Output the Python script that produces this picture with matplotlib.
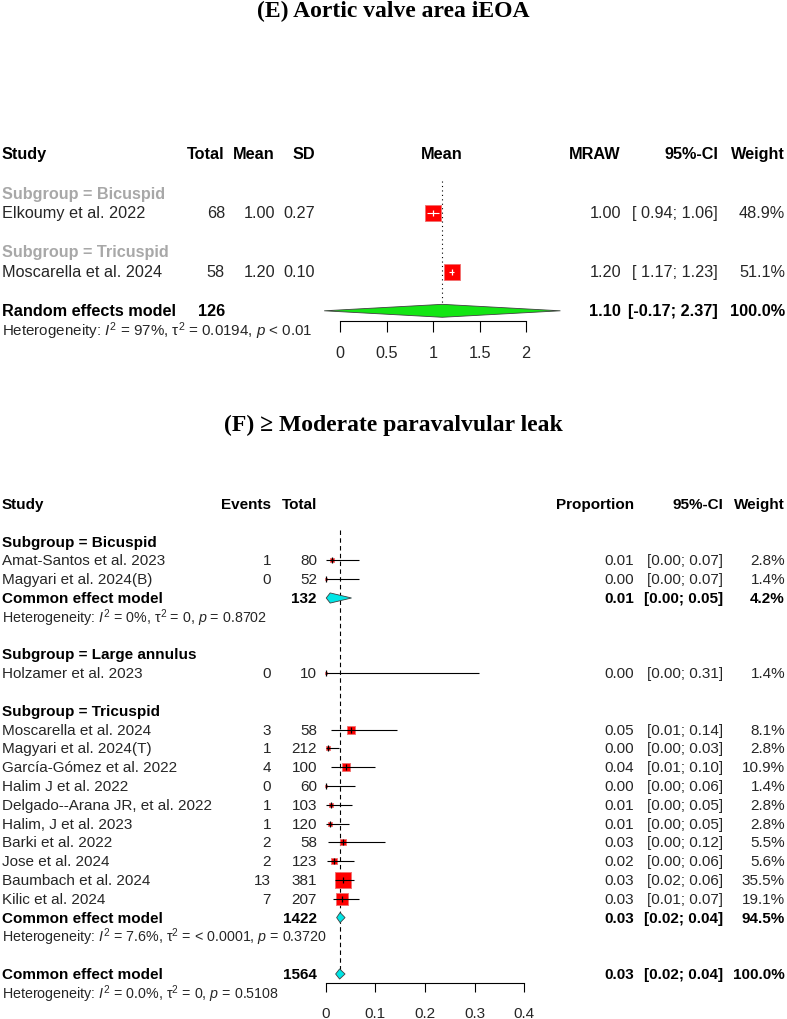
import numpy as np
import matplotlib.pyplot as plt
from matplotlib.transforms import blended_transform_factory

plt.rcParams['font.family'] = ['Liberation Sans', 'DejaVu Sans']
plt.rcParams['mathtext.fontset'] = 'custom'
plt.rcParams['mathtext.rm'] = 'Liberation Sans'
plt.rcParams['mathtext.it'] = 'Liberation Sans:italic'
plt.rcParams['mathtext.bf'] = 'Liberation Sans:bold'

# ---- (E) Aortic valve area iEOA ----
e_groups = ['Bicuspid', 'Tricuspid']
e_studies = ['Elkoumy et al. 2022', 'Moscarella et al. 2024']
e_study_group = ['Bicuspid', 'Tricuspid']
e_total = [68, 58]
e_mean = [1.00, 1.20]
e_sd = [0.27, 0.10]
e_lower = [0.94, 1.17]
e_upper = [1.06, 1.23]
e_weight = [48.9, 51.1]
e_pooled = [1.10, -0.17, 2.37]   # estimate, lower, upper
e_pooled_total = 126
e_het = r'Heterogeneity: $I^2$ = 97%, τ$^2$ = 0.0194, $p$ < 0.01'
e_ticks = [0, 0.5, 1, 1.5, 2]

# ---- (F) >= Moderate paravalvular leak ----
f_groups = ['Bicuspid', 'Large annulus', 'Tricuspid']
f_studies = ['Amat-Santos et al. 2023', 'Magyari et al. 2024(B)', 'Holzamer et al. 2023',
             'Moscarella et al. 2024', 'Magyari et al. 2024(T)', 'García-Gómez et al. 2022',
             'Halim J et al. 2022', 'Delgado--Arana JR, et al. 2022', 'Halim, J et al. 2023',
             'Barki et al. 2022', 'Jose et al. 2024', 'Baumbach et al. 2024', 'Kilic et al. 2024']
f_study_group = ['Bicuspid', 'Bicuspid', 'Large annulus'] + ['Tricuspid'] * 10
f_events = [1, 0, 0, 3, 1, 4, 0, 1, 1, 2, 2, 13, 7]
f_total = [80, 52, 10, 58, 212, 100, 60, 103, 120, 58, 123, 381, 207]
f_prop = [0.0125, 0.0, 0.0, 0.0517, 0.0047, 0.040, 0.0, 0.0097, 0.0083, 0.0345, 0.0163, 0.0341, 0.0338]
f_lower = [0.0003, 0.0, 0.0, 0.011, 0.0001, 0.011, 0.0, 0.0002, 0.0002, 0.004, 0.002, 0.018, 0.014]
f_upper = [0.068, 0.068, 0.308, 0.144, 0.026, 0.099, 0.060, 0.053, 0.046, 0.119, 0.058, 0.058, 0.068]
f_weight = [2.8, 1.4, 1.4, 8.1, 2.8, 10.9, 1.4, 2.8, 2.8, 5.5, 5.6, 35.5, 19.1]
f_pool_groups = ['Bicuspid', 'Tricuspid']
f_pool_est = [0.009, 0.029]
f_pool_lower = [0.001, 0.022]
f_pool_upper = [0.052, 0.039]
f_pool_total = [132, 1422]
f_pool_weight = [4.2, 94.5]
f_pool_het = [r'Heterogeneity: $I^2$ = 0%, τ$^2$ = 0, $p$ = 0.8702',
              r'Heterogeneity: $I^2$ = 7.6%, τ$^2$ = < 0.0001, $p$ = 0.3720']
f_overall = [0.028, 0.020, 0.039]
f_overall_total = 1564
f_overall_het = r'Heterogeneity: $I^2$ = 0.0%, τ$^2$ = 0, $p$ = 0.5108'
f_ticks = [0, 0.1, 0.2, 0.3, 0.4]

W, H = 787, 1020
fig = plt.figure(figsize=(W / 100, H / 100), dpi=100)
TXT = '#262626'


def make_panel(x_left, x_right, zero_px, unit_px, top_px, bot_px, row0_px, row_px):
    ax = fig.add_axes([x_left / W, 1 - bot_px / H, (x_right - x_left) / W, (bot_px - top_px) / H])
    ax.set_xlim((x_left - zero_px) / unit_px, (x_right - zero_px) / unit_px)
    ax.set_ylim((bot_px - row0_px) / row_px, (top_px - row0_px) / row_px)
    ax.patch.set_visible(False)
    for s in ['top', 'left', 'right']:
        ax.spines[s].set_visible(False)
    ax.set_yticks([])
    ax.unit_px = unit_px
    ax.trans = blended_transform_factory(fig.transFigure, ax.transData)
    return ax


def put(ax, xpx, row, s, ha='right', size=11, **kw):
    kw.setdefault('color', TXT)
    ax.text(xpx / W, row, s, transform=ax.trans, ha=ha, va='center', fontsize=size,
            clip_on=False, **kw)


def study_mark(ax, est, lo, hi, row, side_px, inner_white):
    ax.scatter([est], [row], s=(side_px * 0.72) ** 2, marker='s', c='red',
               edgecolors='#f07070', linewidths=0.6, zorder=3)
    col = 'white' if inner_white else 'black'
    ax.hlines(row, lo, hi, color=col, lw=0.8, zorder=4)
    ax.plot([est], [row], marker='|', ms=5, mew=0.9, color=col, zorder=4)


def diamond(ax, est, lo, hi, row, h, fc):
    ax.fill([lo, est, hi, est], [row, row - h, row, row + h], facecolor=fc,
            edgecolor='#404040', lw=0.6, zorder=5)


# ================= Panel E =================
fig.text(393 / W, 1 - 11 / H, '(E) Aortic valve area iEOA', ha='center', va='center',
         fontsize=17, fontweight='bold', family=['Liberation Serif', 'DejaVu Serif'])
axE = make_panel(300, 600, 340, 93, 140, 380, 155, 19.6)
fs = 11.7
put(axE, 2, 0, 'Study', ha='left', size=fs, fontweight='bold', color='black')
for x, s in [(225, 'Total'), (275, 'Mean'), (315, 'SD'), (621, 'MRAW'), (718, '95%-CI'), (785, 'Weight')]:
    put(axE, x, 0, s, size=fs, fontweight='bold', color='black')
put(axE, 442, 0, 'Mean', ha='center', size=fs, fontweight='bold', color='black')

row = 2
for g in e_groups:
    put(axE, 2, row, 'Subgroup = ' + g, ha='left', size=fs, fontweight='bold', color='#a8a8a8')
    row += 1
    for i in range(len(e_studies)):
        if e_study_group[i] != g:
            continue
        put(axE, 2, row, e_studies[i], ha='left', size=fs)
        put(axE, 225, row, str(e_total[i]), size=fs)
        put(axE, 275, row, f'{e_mean[i]:.2f}', size=fs)
        put(axE, 315, row, f'{e_sd[i]:.2f}', size=fs)
        put(axE, 621, row, f'{e_mean[i]:.2f}', size=fs)
        put(axE, 718, row, f'[ {e_lower[i]:.2f}; {e_upper[i]:.2f}]', size=fs)
        put(axE, 785, row, f'{e_weight[i]:.1f}%', size=fs)
        side = 2.15 * np.sqrt(e_weight[i])
        half = side / 2 / axE.unit_px
        inner = e_lower[i] > e_mean[i] - half and e_upper[i] < e_mean[i] + half
        study_mark(axE, e_mean[i], e_lower[i], e_upper[i], row, side, inner)
        row += 1
    row += 1

put(axE, 2, row, 'Random effects model', ha='left', size=fs, fontweight='bold', color='black')
put(axE, 225, row, str(e_pooled_total), size=fs, fontweight='bold', color='black')
put(axE, 621, row, f'{e_pooled[0]:.2f}', size=fs, fontweight='bold', color='black')
put(axE, 718, row, f'[{e_pooled[1]:.2f}; {e_pooled[2]:.2f}]', size=fs, fontweight='bold', color='black')
put(axE, 785, row, '100.0%', size=fs, fontweight='bold', color='black')
diamond(axE, e_pooled[0], e_pooled[1], e_pooled[2], row, 0.33, '#14e614')
axE.plot([e_pooled[0]] * 2, [1.4, row], color='black', lw=0.8, ls=(0, (1, 3)), zorder=1)
put(axE, 2, row + 1, e_het, ha='left', size=10.9)

axE.spines['bottom'].set_position(('data', row + 0.52))
axE.spines['bottom'].set_bounds(e_ticks[0], e_ticks[-1])
axE.spines['bottom'].set_linewidth(0.8)
axE.set_xticks(e_ticks, labels=[f'{t:g}' for t in e_ticks])
axE.tick_params(axis='x', length=8, width=0.8, pad=9.5, labelsize=fs, labelcolor=TXT)

# ================= Panel F =================
fig.text(393 / W, 1 - 425 / H, '(F) ≥ Moderate paravalvular leak', ha='center', va='center',
         fontsize=17, fontweight='bold', family=['Liberation Serif', 'DejaVu Serif'])
axF = make_panel(300, 560, 325.7, 496.5, 490, 1020, 505, 18.8)
fs = 11
bold = dict(fontweight='bold', color='black')
put(axF, 2, 0, 'Study', ha='left', size=fs, **bold)
for x, s in [(271, 'Events'), (317, 'Total'), (634, 'Proportion'), (723, '95%-CI'), (785, 'Weight')]:
    put(axF, x, 0, s, size=fs, **bold)

row = 2
for g in f_groups:
    put(axF, 2, row, 'Subgroup = ' + g, ha='left', size=fs, **bold)
    row += 1
    for i in range(len(f_studies)):
        if f_study_group[i] != g:
            continue
        put(axF, 2, row, f_studies[i], ha='left', size=fs)
        put(axF, 271, row, str(f_events[i]), size=fs)
        put(axF, 317, row, str(f_total[i]), size=fs)
        put(axF, 634, row, f'{f_prop[i]:.2f}', size=fs)
        put(axF, 723, row, f'[{f_lower[i]:.2f}; {f_upper[i]:.2f}]', size=fs)
        put(axF, 785, row, f'{f_weight[i]:.1f}%', size=fs)
        side = 2.52 * np.sqrt(f_weight[i])
        study_mark(axF, f_prop[i], f_lower[i], f_upper[i], row, side, False)
        row += 1
    if g in f_pool_groups:
        k = f_pool_groups.index(g)
        put(axF, 2, row, 'Common effect model', ha='left', size=fs, **bold)
        put(axF, 317, row, str(f_pool_total[k]), size=fs, **bold)
        put(axF, 634, row, f'{f_pool_est[k]:.2f}', size=fs, **bold)
        put(axF, 723, row, f'[{f_pool_lower[k]:.2f}; {f_pool_upper[k]:.2f}]', size=fs, **bold)
        put(axF, 785, row, f'{f_pool_weight[k]:.1f}%', size=fs, **bold)
        diamond(axF, f_pool_est[k], f_pool_lower[k], f_pool_upper[k], row, 0.27, '#00e6e6')
        put(axF, 2, row + 1, f_pool_het[k], ha='left', size=10.3)
        row += 2
    row += 1

put(axF, 2, row, 'Common effect model', ha='left', size=fs, **bold)
put(axF, 317, row, str(f_overall_total), size=fs, **bold)
put(axF, 634, row, f'{f_overall[0]:.2f}', size=fs, **bold)
put(axF, 723, row, f'[{f_overall[1]:.2f}; {f_overall[2]:.2f}]', size=fs, **bold)
put(axF, 785, row, '100.0%', size=fs, **bold)
diamond(axF, f_overall[0], f_overall[1], f_overall[2], row, 0.27, '#00e6e6')
axF.plot([f_overall[0]] * 2, [1.4, row], color='black', lw=0.8, ls=(0, (4, 3)), zorder=1)
put(axF, 2, row + 1, f_overall_het, ha='left', size=10.3)

axF.spines['bottom'].set_position(('data', row + 0.48))
axF.spines['bottom'].set_bounds(f_ticks[0], f_ticks[-1])
axF.spines['bottom'].set_linewidth(0.8)
axF.set_xticks(f_ticks, labels=[f'{t:g}' for t in f_ticks])
axF.tick_params(axis='x', length=6.5, width=0.8, pad=10, labelsize=fs, labelcolor=TXT)

fig.savefig('out.png', dpi=100)
